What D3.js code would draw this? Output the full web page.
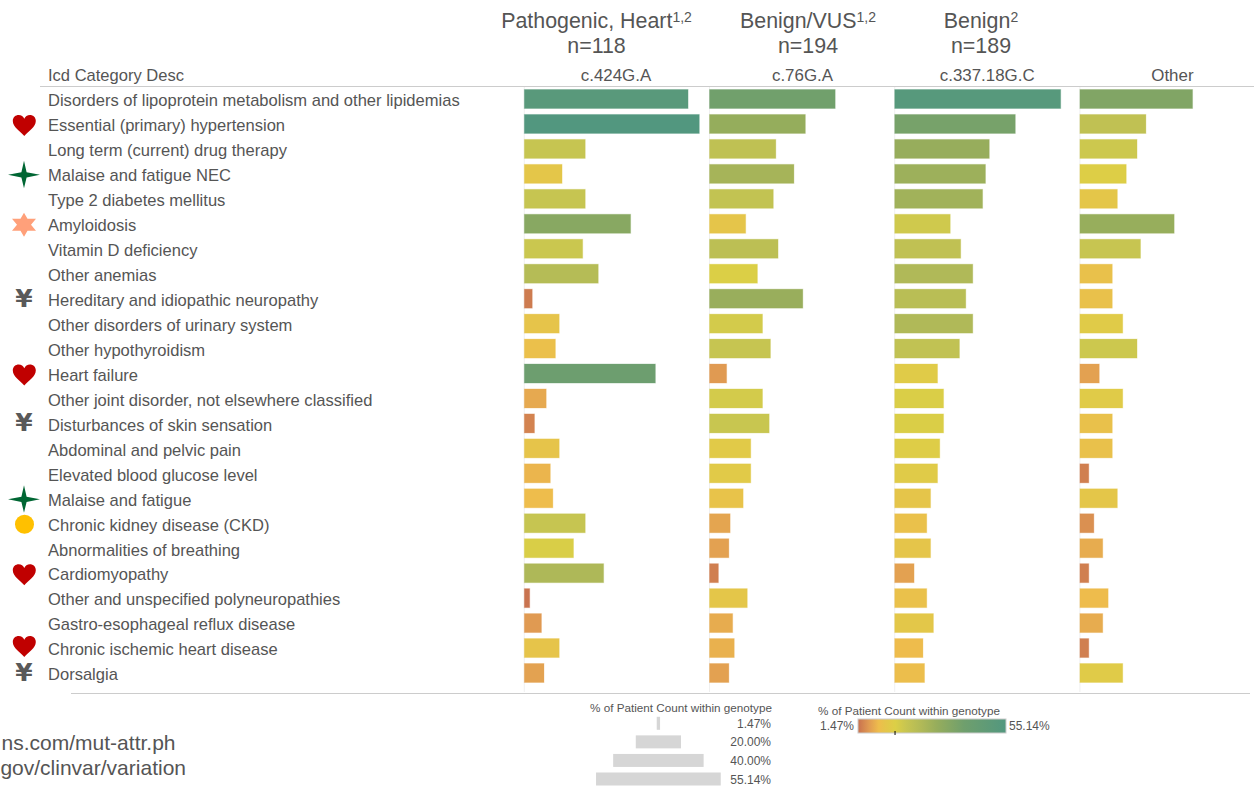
<!DOCTYPE html>
<html><head><meta charset="utf-8">
<script src="https://cdnjs.cloudflare.com/ajax/libs/d3/7.8.5/d3.min.js"></script>
<style>
html,body{margin:0;padding:0;background:#fff;overflow:hidden}
svg{display:block}
text{font-family:"Liberation Sans",Arial,sans-serif;fill:#555}
</style></head><body><svg id="c" width="1254" height="786"></svg>
<script>
const categories=["Disorders of lipoprotein metabolism and other lipidemias","Essential (primary) hypertension","Long term (current) drug therapy","Malaise and fatigue NEC","Type 2 diabetes mellitus","Amyloidosis","Vitamin D deficiency","Other anemias","Hereditary and idiopathic neuropathy","Other disorders of urinary system","Other hypothyroidism","Heart failure","Other joint disorder, not elsewhere classified","Disturbances of skin sensation","Abdominal and pelvic pain","Elevated blood glucose level","Malaise and fatigue","Chronic kidney disease (CKD)","Abnormalities of breathing","Cardiomyopathy","Other and unspecified polyneuropathies","Gastro-esophageal reflux disease","Chronic ischemic heart disease","Dorsalgia"];
const genotypes=["c.424G.A","c.76G.A","c.337.18G.C","Other"];
const c424=[51.6,55.14,19.2,11.9,19.2,33.5,18.4,23.3,2.5,11.0,9.8,41.3,6.9,3.2,11.0,8.2,9.0,19.2,15.5,25.0,1.7,5.4,11.0,6.2];
const c76=[39.6,30.2,20.9,26.6,20.1,11.4,21.6,15.1,29.4,16.7,19.2,5.4,16.7,18.8,13.0,13.0,10.6,6.5,6.1,2.8,11.9,7.3,7.8,6.1];
const c337=[52.3,38.0,29.8,28.6,27.7,17.5,20.8,24.6,22.4,24.6,20.4,13.5,15.4,15.4,14.2,13.5,11.3,10.1,11.3,6.1,10.1,12.2,8.9,9.4];
const other=[35.5,20.8,18.0,14.6,11.8,29.7,19.1,10.2,10.2,13.5,18.0,6.1,13.5,10.2,10.2,2.8,11.8,4.4,7.2,2.8,8.9,7.2,2.8,13.5];
const seriesValues=[c424,c76,c337,other];
const cohorts=[["Pathogenic, Heart","1,2","n=118"],["Benign/VUS","1,2","n=194"],["Benign","2","n=189"]];
const sizeLegend=[1.47,20,40,55.14];
const hearts=["Essential (primary) hypertension","Heart failure","Cardiomyopathy","Chronic ischemic heart disease"];
const sparkles=["Malaise and fatigue NEC","Malaise and fatigue"];
const amyloid=["Amyloidosis"];
const yen=["Hereditary and idiopathic neuropathy","Disturbances of skin sensation","Dorsalgia"];
const kidney=["Chronic kidney disease (CKD)"];
const colorStops=[1.47,5.4,9,11,15,19,25,30,40,55.14];
const colorRange=["#c8714f","#e09a52","#eebd4c","#e6c44a","#dccf46","#c7c551","#aeb858","#96ad5c","#6f9f6d","#52977f"];

const svg=d3.select("#c");
const col=d3.scalePoint().domain(genotypes).range([524.3,1079.9]);
const y=d3.scalePoint().domain(categories).range([99,673]);
const x=d3.scaleLinear().domain([0,55.14]).range([0,175]);
const color=d3.scaleLinear().domain(colorStops).range(colorRange);
const barH=19;

// vertical rules
svg.append("g").selectAll("line").data(genotypes).join("line")
 .attr("x1",d=>col(d)).attr("x2",d=>col(d)).attr("y1",87).attr("y2",692).attr("stroke","#f0f0f0");
// horizontal rules
svg.append("line").attr("x1",40).attr("x2",1254).attr("y1",86.5).attr("y2",86.5).attr("stroke","#ccc");
svg.append("line").attr("x1",71).attr("x2",1250).attr("y1",693.5).attr("y2",693.5).attr("stroke","#ccc");

// bars
genotypes.forEach((g,i)=>{
 svg.append("g").selectAll("rect").data(seriesValues[i]).join("rect")
  .attr("x",col(g)).attr("y",(d,j)=>y(categories[j])-barH/2)
  .attr("width",d=>x(d)).attr("height",barH)
  .attr("fill",d=>color(d)).attr("stroke",d=>color(d)).attr("stroke-opacity",.3).attr("stroke-width",1);
});

// category labels
const axis=svg.append("g").attr("transform","translate(48,1)").call(d3.axisLeft(y).tickSize(0));
axis.select(".domain").remove();
axis.selectAll("text").attr("x",0).attr("dy",".35em").attr("text-anchor","start")
 .style("font-family",'"Liberation Sans",Arial,sans-serif').style("font-size","16.55px").style("fill","#555");
svg.append("text").attr("x",48).attr("y",81).attr("font-size",16.55).text("Icd Category Desc");

// genotype headers
svg.append("g").selectAll("text").data(genotypes).join("text")
 .attr("x",(d,i)=>col(d)+[91.7,93,92.5,92.5][i]).attr("y",81).attr("text-anchor","middle").attr("font-size",16.9).text(d=>d);

// cohort headers
const hx=[596.5,808,981];
cohorts.forEach((c,i)=>{
 const t=svg.append("text").attr("x",hx[i]).attr("y",28).attr("text-anchor","middle").attr("font-size",21.4).text(c[0]);
 t.append("tspan").attr("font-size",14).attr("dy",-6).text(c[1]);
 svg.append("text").attr("x",hx[i]).attr("y",53).attr("text-anchor","middle").attr("font-size",21.4).text(c[2]);
});

// icons
const heart="M0,11C-4,6.5-11.5,2-11.5,-4C-11.5,-8-8.5,-10-5.7,-10C-3,-10-0.9,-8.4,0,-6.2C0.9,-8.4,3,-10,5.7,-10C8.5,-10,11.5,-8,11.5,-4C11.5,2,4,6.5,0,11Z";
const sparkle="M0,-14L2.6,-2.6L16,0L2.6,2.6L0,13.5L-2.6,2.6L-16,0L-2.6,-2.6Z";
const star6="M0,-12L3.5,-6L12,-6L7,0L12,6L3.5,6L0,12L-3.5,6L-12,6L-7,0L-12,-6L-3.5,-6Z";
const heartShift={"Chronic ischemic heart disease":-3};
svg.append("g").selectAll("path").data(hearts).join("path").attr("d",heart).attr("fill","#c00000")
 .attr("transform",d=>`translate(24.3,${y(d)+1+(heartShift[d]||0)})`);
svg.append("g").selectAll("path").data(sparkles).join("path").attr("d",sparkle).attr("fill","#006633")
 .attr("transform",d=>`translate(24,${y(d)+1})`);
svg.append("g").selectAll("path").data(amyloid).join("path").attr("d",star6).attr("fill","#ffa07a")
 .attr("transform",d=>`translate(24,${y(d)+1})`);
svg.append("g").selectAll("text").data(yen).join("text").attr("x",24).attr("y",d=>y(d)+8).attr("text-anchor","middle")
 .attr("font-size",25).attr("font-weight","bold").style("font-family",'"DejaVu Sans"').style("fill","#595959").text("¥");
svg.append("g").selectAll("circle").data(kidney).join("circle").attr("cx",24.5).attr("cy",d=>y(d)+1).attr("r",9.5).attr("fill","#ffc000");

// source fragments
svg.append("text").attr("x",175.5).attr("y",750).attr("text-anchor","end").attr("font-size",21).text("ns.com/mut-attr.ph");
svg.append("text").attr("x",186).attr("y",775).attr("text-anchor","end").attr("font-size",21).text("gov/clinvar/variation");

// size legend
const lx=d3.scaleLinear().domain([0,55.14]).range([0,124.7]);
const ly=d3.scalePoint().domain(sizeLegend).range([723.3,779]);
svg.append("text").attr("x",590).attr("y",712).attr("font-size",11.7).text("% of Patient Count within genotype");
svg.append("g").selectAll("rect").data(sizeLegend).join("rect")
 .attr("x",d=>658.4-lx(d)/2).attr("y",d=>ly(d)-6.5).attr("width",d=>lx(d)).attr("height",13).attr("fill","#d6d6d6");
svg.append("g").selectAll("text").data(sizeLegend).join("text")
 .attr("x",771).attr("y",d=>ly(d)+4.5).attr("text-anchor","end").attr("font-size",12).text(d=>d.toFixed(2)+"%");

// colour legend
const gx=d3.scaleLinear().domain([1.47,55.14]).range([858,1006]);
const grad=svg.append("defs").append("linearGradient").attr("id","g");
grad.selectAll("stop").data(colorStops).join("stop")
 .attr("offset",d=>(gx(d)-858)/148).attr("stop-color",d=>color(d));
svg.append("text").attr("x",818).attr("y",715).attr("font-size",11.7).text("% of Patient Count within genotype");
svg.append("rect").attr("x",858).attr("y",719).attr("width",148).attr("height",14).attr("fill","url(#g)").attr("stroke","#ccc");
svg.append("line").attr("x1",gx(14.9)).attr("x2",gx(14.9)).attr("y1",731).attr("y2",735).attr("stroke","#000");
svg.append("text").attr("x",854).attr("y",730).attr("text-anchor","end").attr("font-size",12).text("1.47%");
svg.append("text").attr("x",1009).attr("y",730).attr("font-size",12).text("55.14%");
</script></body></html>
